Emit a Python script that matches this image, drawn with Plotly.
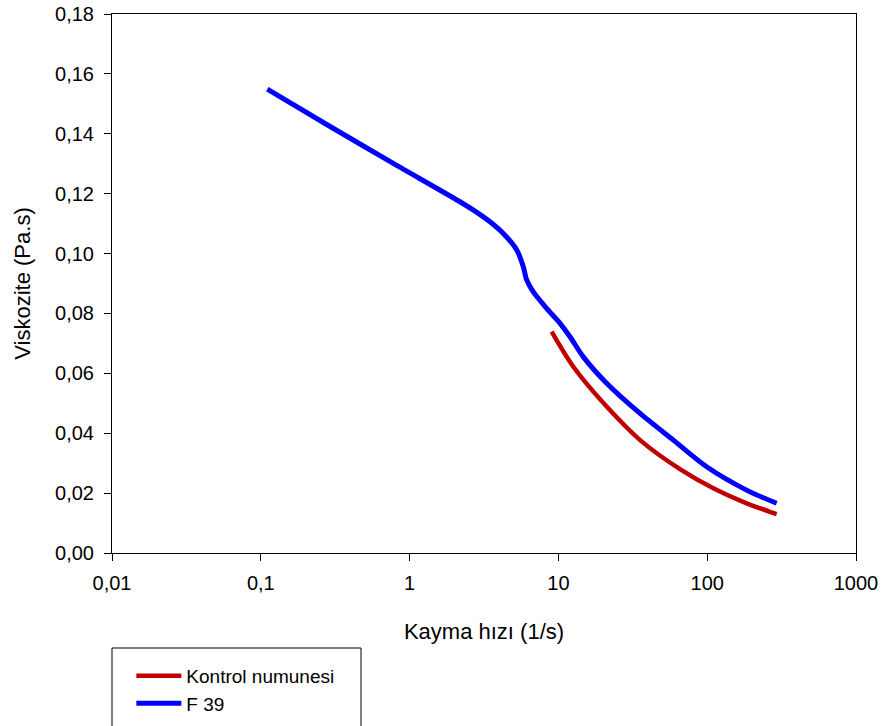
import plotly.graph_objects as go

# Data
f39_x = [0.1106, 0.2773, 0.777, 2.18, 2.88, 3.47, 4.26, 5.25, 5.81, 6.12, 6.78, 8.34,
         10.25, 11.97, 14.7, 21.1, 35.4, 59.2, 99.2, 184, 293]
f39_y = [0.1549, 0.1431, 0.1301, 0.1173, 0.1135, 0.1106, 0.1067, 0.1012, 0.0956, 0.0912,
         0.0872, 0.0817, 0.0767, 0.0722, 0.0655, 0.0567, 0.0466, 0.0377, 0.0288, 0.0210, 0.0166]
kontrol_x = [9.01, 12.6, 21.1, 35.4, 65.6, 110, 184, 293]
kontrol_y = [0.0739, 0.0622, 0.0489, 0.0377, 0.0280, 0.0216, 0.0166, 0.0130]

x_tickvals = [0.01, 0.1, 1, 10, 100, 1000]
x_ticktext = ["0,01", "0,1", "1", "10", "100", "1000"]
y_tickvals = [0.00, 0.02, 0.04, 0.06, 0.08, 0.10, 0.12, 0.14, 0.16, 0.18]
y_ticktext = ["0,00", "0,02", "0,04", "0,06", "0,08", "0,10", "0,12", "0,14", "0,16", "0,18"]

FONT = "Arial, Liberation Sans, sans-serif"

fig = go.Figure()
fig.add_trace(go.Scatter(x=kontrol_x, y=kontrol_y, mode="lines", name="Kontrol numunesi",
                         line=dict(color="#C00000", width=4.5, shape="spline", smoothing=0.9)))
fig.add_trace(go.Scatter(x=f39_x, y=f39_y, mode="lines", name="F 39",
                         line=dict(color="#0000FF", width=5, shape="spline", smoothing=0.8)))

fig.update_layout(
    width=885, height=726,
    margin=dict(l=112, r=29, t=14, b=173, autoexpand=False),
    paper_bgcolor="white", plot_bgcolor="white",
    font=dict(family=FONT, size=19, color="black"),
    showlegend=True,
    legend=dict(x=0.026, y=-0.1926, xanchor="left", yanchor="top",
                bgcolor="rgba(0,0,0,0)", borderwidth=0,
                font=dict(family=FONT, size=19, color="black"),
                tracegroupgap=0, itemwidth=45),
    shapes=[dict(type="rect", xref="paper", yref="paper",
                 x0=0, x1=(361 - 112) / 744, y0=(553 - 648) / 539, y1=(553 - 740) / 539,
                 line=dict(color="black", width=1), fillcolor="rgba(0,0,0,0)")],
)
fig.update_xaxes(type="log", range=[-2, 3], tickvals=x_tickvals, ticktext=x_ticktext,
                 ticks="outside", ticklen=7, tickwidth=1, tickcolor="black",
                 showline=True, linecolor="black", linewidth=1, mirror=True,
                 showgrid=False, zeroline=False, automargin=False,
                 tickfont=dict(size=20), ticklabelstandoff=5,
                 title=dict(text="Kayma hızı (1/s)", font=dict(size=22), standoff=30))
fig.update_yaxes(range=[0, 0.18], tickvals=y_tickvals, ticktext=y_ticktext,
                 ticks="outside", ticklen=7, tickwidth=1, tickcolor="black",
                 showline=True, linecolor="black", linewidth=1, mirror=True,
                 showgrid=False, zeroline=False, automargin=False,
                 tickfont=dict(size=20), ticklabelstandoff=6,
                 title=dict(text="Viskozite (Pa.s)", font=dict(size=22), standoff=18))

fig.write_html("out.html")
